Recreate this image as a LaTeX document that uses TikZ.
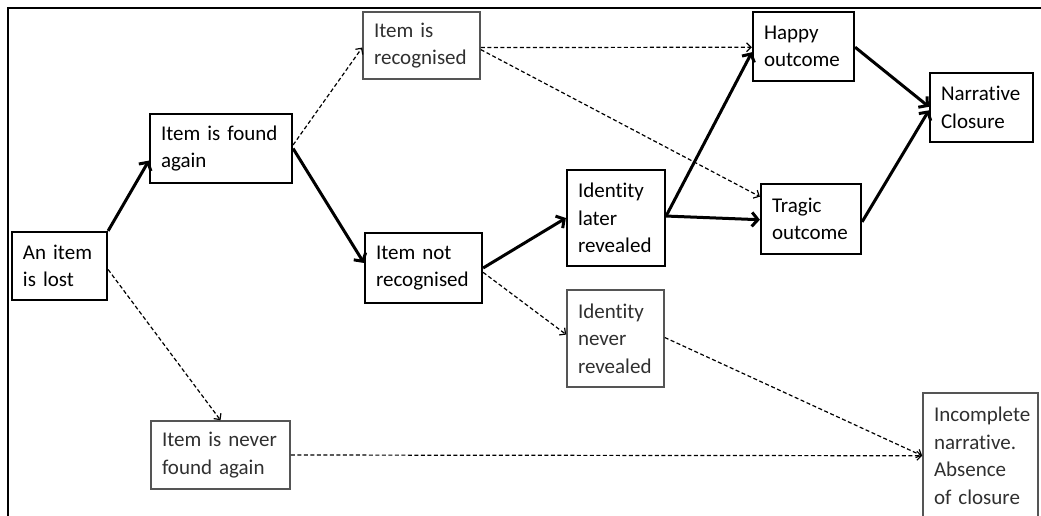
\documentclass[tikz,border=0pt]{standalone}
\usepackage{fontspec}
\setmainfont{Carlito}[Ligatures={NoCommon}]
\usetikzlibrary{arrows.meta,calc}
\definecolor{boxgrey}{HTML}{555555}
\definecolor{textgrey}{HTML}{303030}

\begin{document}
\begin{tikzpicture}[x=1pt,y=-1pt,
  box/.style={draw=black, line width=2.2pt, rectangle, inner xsep=11pt, inner ysep=2pt,
              align=left, text=black, font=\fontsize{21}{27.5}\selectfont},
  greybox/.style={box, draw=boxgrey, line width=1.6pt, text=textgrey},
  flow/.style={line width=3pt, -{Straight Barb[length=6pt,width=14pt]}},
  maybe/.style={line width=1.2pt, dash pattern=on 4pt off 2.5pt,
                -{Straight Barb[length=4.5pt,width=9pt]}}]

\useasboundingbox (0,0) rectangle (1041,515);
\fill[white] (0,0) rectangle (1041,515);

% outer frame (only the top and left edges fall inside the page)
\draw[line width=1.6pt] (8,530) -- (8,8) -- (1060,8);

% story states
\node[box, minimum width=95pt, minimum height=68pt, text width=73pt] (lost) at (59.5,266) {An item\\is lost};
\node[box, minimum width=142pt, minimum height=69pt, text width=120pt] (found) at (221,148.5) {Item is found\\again};
\node[greybox, minimum width=117pt, minimum height=67pt, text width=95pt] (recog) at (421.5,45.5) {Item is\\recognised};
\node[box, minimum width=117pt, minimum height=70pt, text width=95pt] (notrec) at (423.5,268) {Item not\\recognised};
\node[box, minimum width=98pt, minimum height=96pt, text width=76pt] (later) at (616,218) {Identity\\later\\revealed};
\node[greybox, minimum width=97pt, minimum height=97pt, text width=75pt] (never) at (615.5,338.5) {Identity\\never\\revealed};
\node[box, minimum width=101pt, minimum height=69pt, text width=79pt] (happy) at (803.5,46.5) {Happy\\outcome};
\node[box, minimum width=100pt, minimum height=70pt, text width=78pt] (tragic) at (811,219) {Tragic\\outcome};
\node[box, minimum width=103pt, minimum height=69pt, text width=81pt] (closure) at (981.5,107.5) {Narrative\\Closure};
\node[greybox, minimum width=139pt, minimum height=68pt, text width=117pt] (lostforever) at (220.5,455) {Item is never\\found again};
\node[greybox, minimum width=115pt, minimum height=125.5pt, text width=93pt] (open) at (980.5,455.75) {Incomplete\\narrative.\\Absence\\of closure};

% main path
\draw[flow] (lost.north east) -- ($(found.north west)!0.67!(found.south west)$);
\draw[flow] (found.east) -- ($(notrec.north west)!0.43!(notrec.south west)$);
\draw[flow] (notrec.east) -- (later.west);
\draw[flow] ($(later.north east)!0.48!(later.south east)$) -- ($(happy.north west)!0.58!(happy.south west)$);
\draw[flow] ($(later.north east)!0.48!(later.south east)$) -- ($(tragic.north west)!0.51!(tragic.south west)$);
\draw[flow] ($(happy.north east)!0.51!(happy.south east)$) -- ($(closure.north west)!0.49!(closure.south west)$);
\draw[flow] ($(tragic.north east)!0.54!(tragic.south east)$) -- ($(closure.north west)!0.54!(closure.south west)$);

% alternative paths
\draw[maybe] ($(lost.north east)!0.55!(lost.south east)$) -- (lostforever.north);
\draw[maybe] ($(found.north east)!0.45!(found.south east)$) -- ($(recog.north west)!0.53!(recog.south west)$);
\draw[maybe] ($(recog.north east)!0.53!(recog.south east)$) -- ($(happy.north west)!0.51!(happy.south west)$);
\draw[maybe] ($(recog.north east)!0.56!(recog.south east)$) -- ($(tragic.north west)!0.19!(tragic.south west)$);
\draw[maybe] ($(notrec.north east)!0.56!(notrec.south east)$) -- ($(never.north west)!0.46!(never.south west)$);
\draw[maybe] ($(never.north east)!0.49!(never.south east)$) -- (open.west);
\draw[maybe] (lostforever.east) -- (open.west);
\end{tikzpicture}
\end{document}
